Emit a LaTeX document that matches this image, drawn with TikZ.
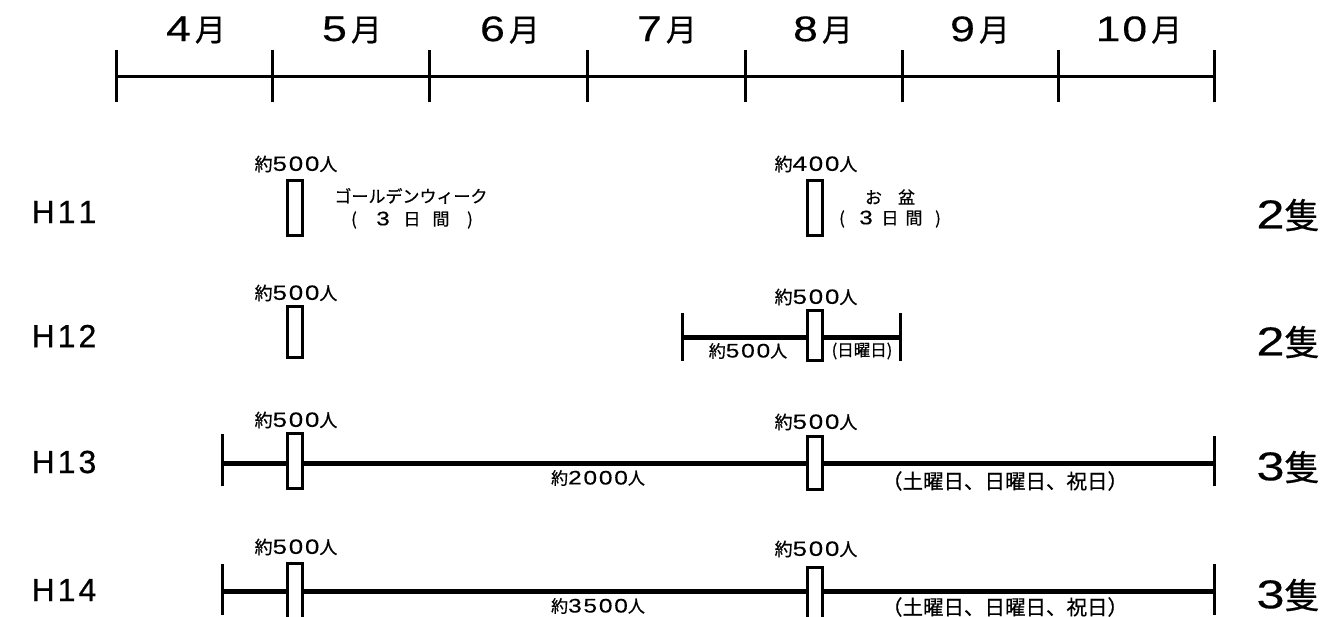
\documentclass[tikz,border=0pt]{standalone}
\usepackage{fontspec}
\setmainfont{Noto Sans CJK JP}[FakeBold=0.6]
\newfontfamily\lat{Liberation Sans}[FakeBold=0.6]
\newfontfamily\widedig{Liberation Sans}[FakeStretch=1.25, Scale=1.15, FakeBold=0.3]
\newcommand\D[1]{{\widedig #1}}
\newcommand\K{\kern1.8pt}
\begin{document}
\begin{tikzpicture}[x=1pt,y=-1pt,
  axisline/.style={line width=3pt},
  tickline/.style={line width=3pt},
  barline/.style={line width=5pt},
  peak/.style={draw, line width=3pt, fill=white, minimum width=15pt, inner sep=0pt},
  month/.style={font=\fontsize{31}{33}\selectfont, inner sep=0pt},
  rowlbl/.style={font=\lat\fontsize{32}{34}\selectfont, inner sep=0pt},
  ships/.style={font=\fontsize{35}{37}\selectfont, inner sep=0pt},
  cnt/.style={font=\fontsize{18}{20}\selectfont, inner sep=0pt},
  bcnt/.style={font=\fontsize{17}{19}\selectfont, inner sep=0pt},
  note/.style={font=\fontsize{17}{19}\selectfont, inner sep=0pt},
  days/.style={font=\fontsize{20.5}{22}\selectfont, inner sep=0pt},
  sun/.style={font=\fontsize{16.5}{18}\selectfont, inner sep=0pt}]
\useasboundingbox (0,0) rectangle (1328,616);
% axis
\coordinate (m0) at (116,76);
\coordinate (m1) at (272,76);
\coordinate (m2) at (429,76);
\coordinate (m3) at (587,76);
\coordinate (m4) at (745,76);
\coordinate (m5) at (902,76);
\coordinate (m6) at (1058,76);
\coordinate (m7) at (1214,76);
\draw[axisline] (m0) -- (m7);
\foreach \i in {0,...,7}{\draw[tickline] ([yshift=-26pt]m\i) -- ([yshift=26pt]m\i);}
\node[month] (apr) at (196,30) {\D{4}\kern4pt月};
\node[month] (may) at (352,30) {\D{5}\kern4pt月};
\node[month] (jun) at (510,30) {\D{6}\kern4pt月};
\node[month] (jul) at (667,30) {\D{7}\kern4pt月};
\node[month] (aug) at (823,30) {\D{8}\kern4pt月};
\node[month] (sep) at (980,30) {\D{9}\kern4pt月};
\node[month] (oct) at (1139,30) {\D{1\K0}\kern4pt月};
% H11
\node[rowlbl] (h11) at (64,212) {H\kern3pt1\kern3pt1};
\node[peak, minimum height=55pt] (b11a) at (295,208) {};
\node[cnt] (c11a) at (296,164) {約\D{5\K0\K0}人};
\node[note] (gw) at (411,196) {ゴールデンウィーク};
\node[note] (gw2) at (412,220) {\makebox[29pt]{(}\makebox[29pt]{\D{3}}\makebox[29pt]{日}\makebox[29pt]{間}\makebox[29pt]{)}};
\node[peak, minimum height=55pt] (b11b) at (815,208) {};
\node[cnt] (c11b) at (816,164) {約\D{4\K0\K0}人};
\node[note] (obon) at (890,197) {お\makebox[16pt]{}盆};
\node[note] (obon2) at (890,219) {\makebox[24pt]{(}\makebox[24pt]{\D{3}}\makebox[24pt]{日}\makebox[24pt]{間}\makebox[24pt]{)}};
\node[ships] (s11) at (1288,215) {\D{2}隻};
% H12
\node[rowlbl] (h12) at (64,336) {H\kern3pt1\kern3pt2};
\node[peak, minimum height=51pt] (b12a) at (295,332) {};
\node[cnt] (c12a) at (296,293) {約\D{5\K0\K0}人};
\coordinate (e12l) at (682,337);
\coordinate (e12r) at (900,337);
\draw[barline] (e12l) -- (e12r);
\draw[tickline] ([yshift=-24pt]e12l) -- ([yshift=24pt]e12l);
\draw[tickline] ([yshift=-24pt]e12r) -- ([yshift=24pt]e12r);
\node[peak, minimum height=50pt] (b12b) at (815,335) {};
\node[cnt] (c12b) at (816,297) {約\D{5\K0\K0}人};
\node[bcnt] (w12) at (748,351) {約\D{5\K0\K0}人};
\node[sun] (sun12) at (862,351) {(日曜日)};
\node[ships] (s12) at (1288,342) {\D{2}隻};
% H13
\node[rowlbl] (h13) at (64,462) {H\kern3pt1\kern3pt3};
\coordinate (e13l) at (222,463);
\coordinate (e13r) at (1214,463);
\draw[barline] (e13l) -- (e13r);
\draw[tickline] ([yshift=-23pt]e13l) -- ([yshift=29pt]e13l);
\draw[tickline] ([yshift=-23pt]e13r) -- ([yshift=27pt]e13r);
\node[peak, minimum height=55pt] (b13a) at (295,461) {};
\node[peak, minimum height=53pt] (b13b) at (815,463) {};
\node[cnt] (c13a) at (296,420) {約\D{5\K0\K0}人};
\node[cnt] (c13b) at (816,422) {約\D{5\K0\K0}人};
\node[bcnt] (w13) at (598,478) {約\D{2\K0\K0\K0}人};
\node[days] (d13) at (1005,481) {（土曜日、日曜日、祝日）};
\node[ships] (s13) at (1288,467) {\D{3}隻};
% H14
\node[rowlbl] (h14) at (64,590) {H\kern3pt1\kern3pt4};
\coordinate (e14l) at (222,591);
\coordinate (e14r) at (1214,591);
\draw[barline] (e14l) -- (e14r);
\draw[tickline] ([yshift=-24pt]e14l) -- ([yshift=27pt]e14l);
\draw[tickline] ([yshift=-24pt]e14r) -- ([yshift=27pt]e14r);
\node[peak, minimum height=56pt] (b14a) at (295,591) {};
\node[peak, minimum height=54pt] (b14b) at (815,594) {};
\node[cnt] (c14a) at (296,547) {約\D{5\K0\K0}人};
\node[cnt] (c14b) at (816,549) {約\D{5\K0\K0}人};
\node[bcnt] (w14) at (598,606) {約\D{3\K5\K0\K0}人};
\node[days] (d14) at (1005,607) {（土曜日、日曜日、祝日）};
\node[ships] (s14) at (1288,595) {\D{3}隻};
\end{tikzpicture}
\end{document}
